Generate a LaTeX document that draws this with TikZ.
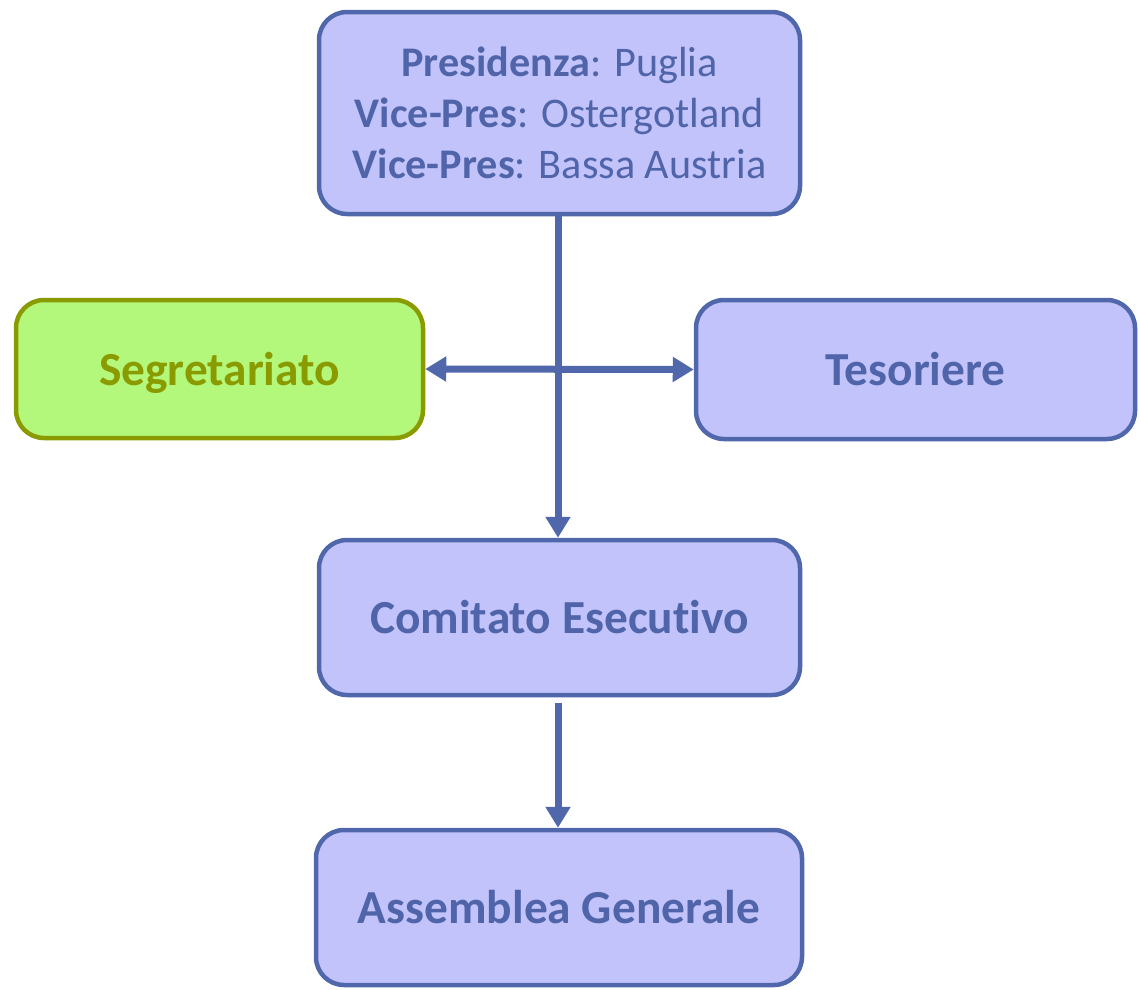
\documentclass[tikz,border=0pt]{standalone}
\usepackage{fontspec}
\setmainfont{Carlito}[Ligatures=NoCommon]
\usetikzlibrary{arrows.meta}
\definecolor{boxfill}{HTML}{C3C3FB}
\definecolor{boxline}{HTML}{5067AC}
\definecolor{boxtext}{HTML}{4F64A9}
\definecolor{grfill}{HTML}{B3F77B}
\definecolor{grline}{HTML}{8A9B00}
\tikzset{
  bluebox/.style={draw=boxline, fill=boxfill, line width=4.5pt, rounded corners=28pt,
    inner sep=0pt, align=center, text=boxtext,
    font=\fontsize{47.4pt}{57pt}\selectfont\bfseries},
  oneline/.style={text height=42pt, text depth=10pt},
  greenbox/.style={bluebox, draw=grline, fill=grfill, text=grline},
  conn/.style={draw=boxline, line width=7pt,
    -{Triangle[width=24pt,length=21pt]}},
  dconn/.style={draw=boxline, line width=7pt,
    {Triangle[width=24pt,length=21pt]}-{Triangle[width=24pt,length=21pt]}}
}
\begin{document}
\begin{tikzpicture}[x=1pt,y=-1pt]
\useasboundingbox (0,0) rectangle (1140,989);
\node[bluebox, minimum width=481pt, minimum height=202pt,
  font=\fontsize{42.2pt}{51pt}\selectfont] (pres) at (559.5,113)
  {\textbf{Presidenza}: Puglia\\ \textbf{Vice-Pres}: Ostergotland\\ \textbf{Vice-Pres}: Bassa Austria};
\node[greenbox, oneline, minimum width=407pt, minimum height=138pt] (seg) at (219.5,369) {Segretariato};
\node[bluebox, oneline, minimum width=439pt, minimum height=139pt] (tes) at (915.5,369.5) {Tesoriere};
\node[bluebox, oneline, minimum width=481pt, minimum height=155pt] (com) at (559.5,617.5) {Comitato Esecut\kern0pt ivo};
\node[bluebox, oneline, minimum width=486pt, minimum height=155pt] (ass) at (559,907.5) {Assemblea Generale};
\draw[dconn] (seg.east) -- (tes.west);
\draw[conn] (pres.south -| 558,0) -- (com.north -| 558,0);
\draw[conn, shorten <=6pt] (com.south -| 558,0) -- (ass.north -| 558,0);
\end{tikzpicture}
\end{document}
